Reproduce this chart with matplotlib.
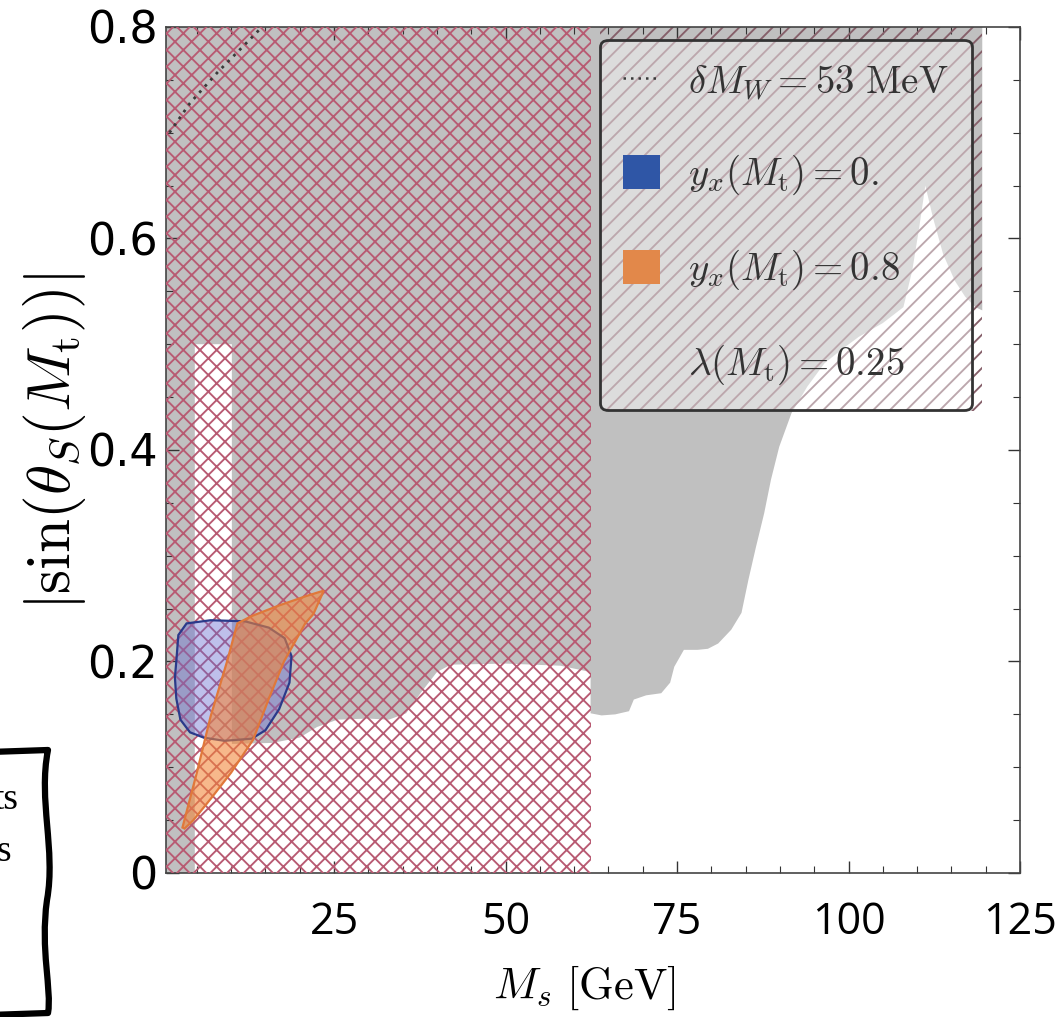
import matplotlib
matplotlib.use('Agg')
import matplotlib.pyplot as plt
import numpy as np
from matplotlib.patches import Patch, Polygon, Rectangle, PathPatch
from matplotlib.lines import Line2D
from matplotlib.path import Path

plt.rcParams['mathtext.fontset'] = 'cm'
plt.rcParams['hatch.linewidth'] = 1.35

# ---------------- data ----------------
x_ticks = [25, 50, 75, 100, 125]
y_ticks = [0.0, 0.2, 0.4, 0.6, 0.8]
y_ticklabels = ['0', '0.2', '0.4', '0.6', '0.8']

# grey excluded region (boundary, Ms in GeV, |sin theta|)
gray_x = [0.5, 0.5, 4.7, 4.7, 10.1, 10.1, 16, 20, 22.5, 25.5, 30, 33, 35.5, 37.6, 40, 42, 50, 58, 62.4,
          62.4, 64, 66, 68, 68.7, 70.5, 72.7, 74.0, 74.6, 76, 78, 79.5, 81, 82.9, 84.4, 85.4, 86.5,
          87.7, 88.7, 89.9, 91.7, 94, 96.5, 99, 101.5, 105, 108, 109.3, 110.3, 111.2, 112.3, 113.8,
          115.5, 117, 118.5, 119.5, 119.5]
gray_y = [0.8, 0.0, 0.0, 0.5, 0.5, 0.122, 0.123, 0.128, 0.138, 0.145, 0.146, 0.145, 0.151, 0.170, 0.19,
          0.197, 0.198, 0.196, 0.19,
          0.151, 0.149, 0.150, 0.153, 0.164, 0.168, 0.170, 0.180, 0.195, 0.211, 0.211, 0.212, 0.217,
          0.230, 0.246, 0.277, 0.308, 0.340, 0.372, 0.403, 0.435, 0.46, 0.482, 0.495, 0.507, 0.52,
          0.535, 0.57, 0.61, 0.65, 0.62, 0.585, 0.56, 0.545, 0.535, 0.532, 0.8]

# cross-hatched region (Ms < Mh/2)
hinv_x = [0.5, 62.4]
hinv_y = [0.0, 0.8]

# lambda(Mt)=0.25 hatched region
lam_x = [63.8, 119.5]
lam_y = [0.437, 0.8]

# y_x(Mt)=0 region
blue_x = [2.0, 2.3, 3.5, 7.0, 12.0, 15.5, 17.8, 18.8, 18.5, 17.0, 15.0, 13.0, 9.0, 6.0, 4.0, 2.6, 2.0, 1.8]
blue_y = [0.200, 0.225, 0.236, 0.239, 0.238, 0.232, 0.222, 0.205, 0.180, 0.155, 0.135, 0.127, 0.125,
          0.128, 0.133, 0.145, 0.165, 0.185]

# y_x(Mt)=0.8 region
orange_x = [2.9, 5.0, 7.0, 9.4, 10.9, 13.0, 17.0, 21.0, 23.5, 22.0, 20.8, 17.7, 15.5, 13.2, 10.0, 7.0, 4.5, 3.2]
orange_y = [0.043, 0.095, 0.148, 0.200, 0.236, 0.243, 0.253, 0.262, 0.267, 0.245, 0.236, 0.200, 0.165,
            0.126, 0.095, 0.070, 0.050, 0.042]

# delta M_W = 53 MeV contour
dmw_x = [1.0, 4.0, 8.0, 12.7, 14.5]
dmw_y = [0.700, 0.728, 0.757, 0.788, 0.800]

legend_labels = [r'$\delta M_W = 53\ \mathrm{MeV}$',
                 r'$y_x(M_{\mathrm{t}}) = 0.$',
                 r'$y_x(M_{\mathrm{t}}) = 0.8$',
                 r'$\lambda(M_{\mathrm{t}}) = 0.25$']

# ---------------- figure ----------------
fig = plt.figure(figsize=(10.56, 10.17), dpi=100)
ax = fig.add_axes([0.1572, 0.1416, 0.8087, 0.8319])

ax.add_patch(Polygon(np.column_stack([gray_x, gray_y]), closed=True,
                     facecolor='#c0c0c0', edgecolor='none', lw=0, zorder=1))
ax.add_patch(Rectangle((lam_x[0], lam_y[0]), lam_x[1] - lam_x[0], lam_y[1] - lam_y[0],
                       facecolor='none', edgecolor='#86606a', hatch='//', lw=0, zorder=2))
ax.add_patch(Rectangle((hinv_x[0], hinv_y[0]), hinv_x[1] - hinv_x[0], hinv_y[1] - hinv_y[0],
                       facecolor='none', edgecolor='#b85a72', hatch='xx', lw=0, zorder=3))
ax.add_patch(Polygon(np.column_stack([blue_x, blue_y]), closed=True,
                     facecolor=(0.40, 0.42, 0.82, 0.42), edgecolor='#2a3a8a', lw=1.6, zorder=4))
ax.add_patch(Polygon(np.column_stack([orange_x, orange_y]), closed=True,
                     facecolor=(0.95, 0.52, 0.22, 0.58), edgecolor='#e0783a', lw=1.6, zorder=5))
ax.plot(dmw_x, dmw_y, color='#3a3a3a', lw=2.0, ls=(0, (1, 2)), zorder=6)

ax.set_xlim(0.5, 125)
ax.set_ylim(0, 0.8)
ax.set_xticks(x_ticks)
ax.set_xticks(np.arange(5, 125, 5), minor=True)
ax.set_yticks(y_ticks)
ax.set_yticklabels(y_ticklabels)
ax.set_yticks(np.arange(0.05, 0.8, 0.05), minor=True)
ax.tick_params(which='both', direction='in', top=True, right=True, color='#333333')
ax.tick_params(which='major', length=9, width=1.0)
ax.tick_params(which='minor', length=5, width=0.8)
ax.tick_params(axis='x', which='major', pad=20, labelsize=31)
ax.tick_params(axis='y', which='major', pad=6, labelsize=32)
for t in ax.get_xticklabels():
    t.set_fontfamily(['Open Sans', 'DejaVu Sans'])
for t in ax.get_yticklabels():
    t.set_fontfamily('DejaVu Sans')
for s in ax.spines.values():
    s.set_color('#444444')
    s.set_linewidth(1.2)

ax.set_xlabel(r'$M_s\ [\mathrm{GeV}]$', fontsize=32, va='center')
ax.xaxis.set_label_coords(0.49, -0.136)
ax.set_ylabel(r'$|\sin(\theta_S(M_{\mathrm{t}}))|$', fontsize=44, va='center')
ax.yaxis.set_label_coords(-0.13, 0.51)

handles = [Line2D([], [], color='#3a3a3a', ls=(0, (1, 2)), lw=1.8),
           Patch(facecolor='#2f56a6', edgecolor='none'),
           Patch(facecolor='#e2884a', edgecolor='none'),
           Patch(facecolor='none', edgecolor='none')]
leg = ax.legend(handles, legend_labels, loc='upper left', bbox_to_anchor=(0.508, 0.985),
                borderaxespad=0, fontsize=28, handlelength=0.95, handleheight=0.95,
                handletextpad=0.72, labelspacing=1.3, borderpad=0.6, fancybox=True,
                labelcolor='#333333')
fr = leg.get_frame()
fr.set_alpha(None)
fr.set_facecolor((1, 1, 1, 0.45))
fr.set_edgecolor('#333333')
fr.set_linewidth(2.0)
leg.set_zorder(10)

# ---------------- cropped note box at bottom-left ----------------
ov = fig.add_axes([0, 0, 1, 1], zorder=20)
ov.set_xlim(0, 1056)
ov.set_ylim(1017, 0)
ov.axis('off')
verts = [(-10, 752), (48, 750),
         (38, 800), (56, 850), (47, 900),
         (40, 950), (52, 990), (48, 1013),
         (-10, 1015)]
codes = [Path.MOVETO, Path.LINETO,
         Path.CURVE4, Path.CURVE4, Path.CURVE4,
         Path.CURVE4, Path.CURVE4, Path.CURVE4,
         Path.LINETO]
ov.add_patch(PathPatch(Path(verts, codes), facecolor='none', edgecolor='black', lw=4.5,
                       joinstyle='round', capstyle='round', clip_on=False))
ov.text(19, 800, 'ts', ha='right', va='center', fontsize=27, family='Liberation Serif', clip_on=False)
ov.text(11, 852, 's', ha='right', va='center', fontsize=27, family='Liberation Serif', clip_on=False)

fig.savefig('out.png', dpi=100)
